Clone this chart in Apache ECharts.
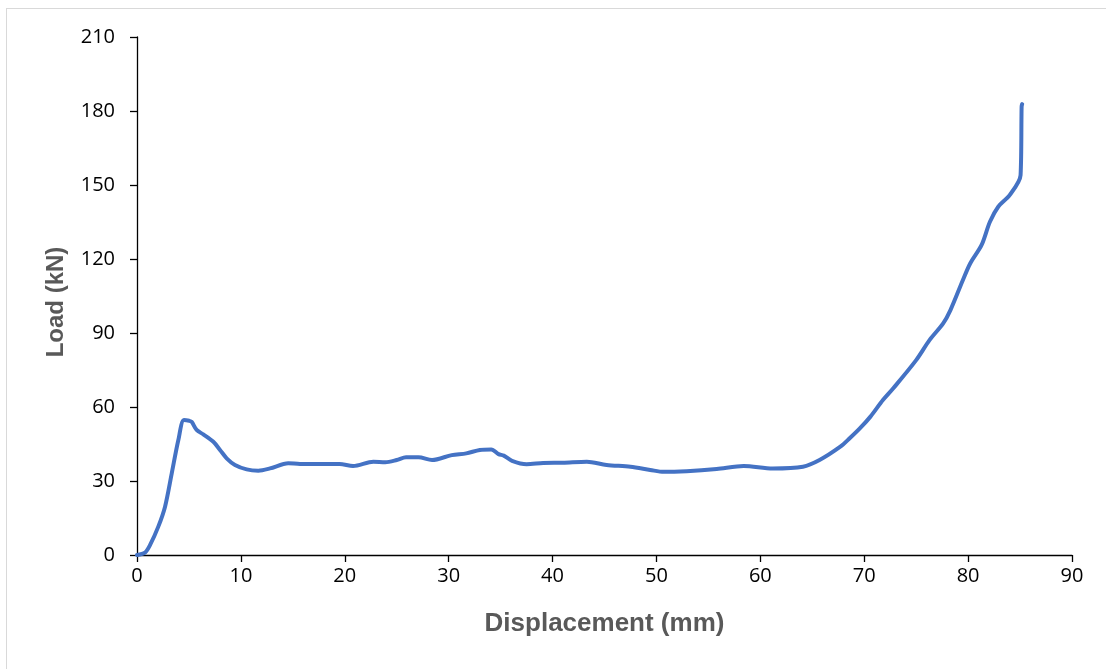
<!DOCTYPE html>
<html>
<head>
<meta charset="utf-8">
<script src="https://cdn.jsdelivr.net/npm/echarts@6/dist/echarts.min.js"></script>
<style>
  html, body { margin: 0; padding: 0; background: #fff; }
  #frame { position: absolute; left: 6px; top: 8px; width: 1120px; height: 680px; border: 1px solid #d9d9d9; }
  #main { position: absolute; left: 0; top: 0; width: 1106px; height: 669px; }
</style>
</head>
<body>
<div id="frame"></div>
<div id="main"></div>
<script>
// displacement (mm) and load (kN)
const displacement = [0, 0.77, 1.25, 2.05, 2.7, 3.34, 3.98, 4.52, 5.03, 5.26, 5.74, 6.38, 7.35, 7.99, 8.63, 9.43, 10.56, 11.68, 12.8, 14.56, 15.69, 17.3, 19.5, 20.8, 22.75, 23.9, 25.0, 25.9, 27.1, 28.4, 30.3, 31.7, 33.0, 34.1, 34.8, 35.3, 36.1, 37.5, 39.1, 41.0, 43.3, 45.2, 47.5, 49.4, 50.7, 52.9, 55.8, 58.4, 61.2, 64.1, 65.7, 67.7, 68.6, 69.6, 70.6, 71.8, 72.8, 75.0, 76.3, 77.6, 78.3, 79.5, 80.2, 81.3, 82.1, 82.9, 84.0, 85.05, 85.15, 85.2]
const load = [0, 1.0, 4, 11.5, 19.6, 33, 46.6, 54.7, 54.4, 54, 50.7, 48.9, 45.9, 42.6, 39.2, 36.5, 34.7, 34.2, 35.1, 37.2, 36.9, 36.9, 36.9, 36.1, 37.8, 37.6, 38.5, 39.6, 39.6, 38.5, 40.5, 41.2, 42.6, 42.8, 40.9, 40.3, 38.2, 36.8, 37.3, 37.4, 37.8, 36.5, 35.8, 34.5, 33.7, 34.0, 34.9, 36.1, 35.1, 35.8, 38.5, 43.9, 47.3, 51.4, 56.1, 62.8, 67.6, 79, 87.2, 93.9, 99.3, 111.5, 118.2, 125.7, 135.1, 141.2, 145.9, 154, 181.7, 182.8]

const chart = echarts.init(document.getElementById('main'))
const font = 'Open Sans'
const titleFont = 'Liberation Sans'

chart.setOption({
  animation: false,
  grid: { left: 137, right: 34, top: 37, bottom: 114 },
  xAxis: {
    type: 'value',
    min: 0, max: 90, interval: 10,
    name: 'Displacement (mm)',
    nameLocation: 'middle',
    nameGap: 56,
    nameTextStyle: { fontFamily: titleFont, fontSize: 26, fontWeight: 'bold', color: '#595959' },
    axisLine: { show: true, lineStyle: { color: '#000', width: 1.3 } },
    axisTick: { show: true, inside: false, length: 7, lineStyle: { color: '#000', width: 1.3 } },
    axisLabel: { fontFamily: font, fontSize: 20, color: '#000', margin: 11 },
    splitLine: { show: false }
  },
  yAxis: {
    type: 'value',
    min: 0, max: 210, interval: 30,
    name: 'Load (kN)',
    nameLocation: 'middle',
    nameGap: 69,
    nameTextStyle: { fontFamily: titleFont, fontSize: 24, fontWeight: 'bold', color: '#595959', padding: [0, 12, 0, 0] },
    axisLine: { show: true, lineStyle: { color: '#000', width: 1.3 } },
    axisTick: { show: true, inside: false, length: 7, lineStyle: { color: '#000', width: 1.3 } },
    axisLabel: { fontFamily: font, fontSize: 20, color: '#000', margin: 22 },
    splitLine: { show: false }
  },
  series: [{
    type: 'line',
    data: displacement.map((d, i) => [d, load[i]]),
    showSymbol: false,
    smooth: 0.3,
    lineStyle: { color: '#4472C4', width: 4, cap: 'round', join: 'round' }
  }]
})
</script>
</body>
</html>
